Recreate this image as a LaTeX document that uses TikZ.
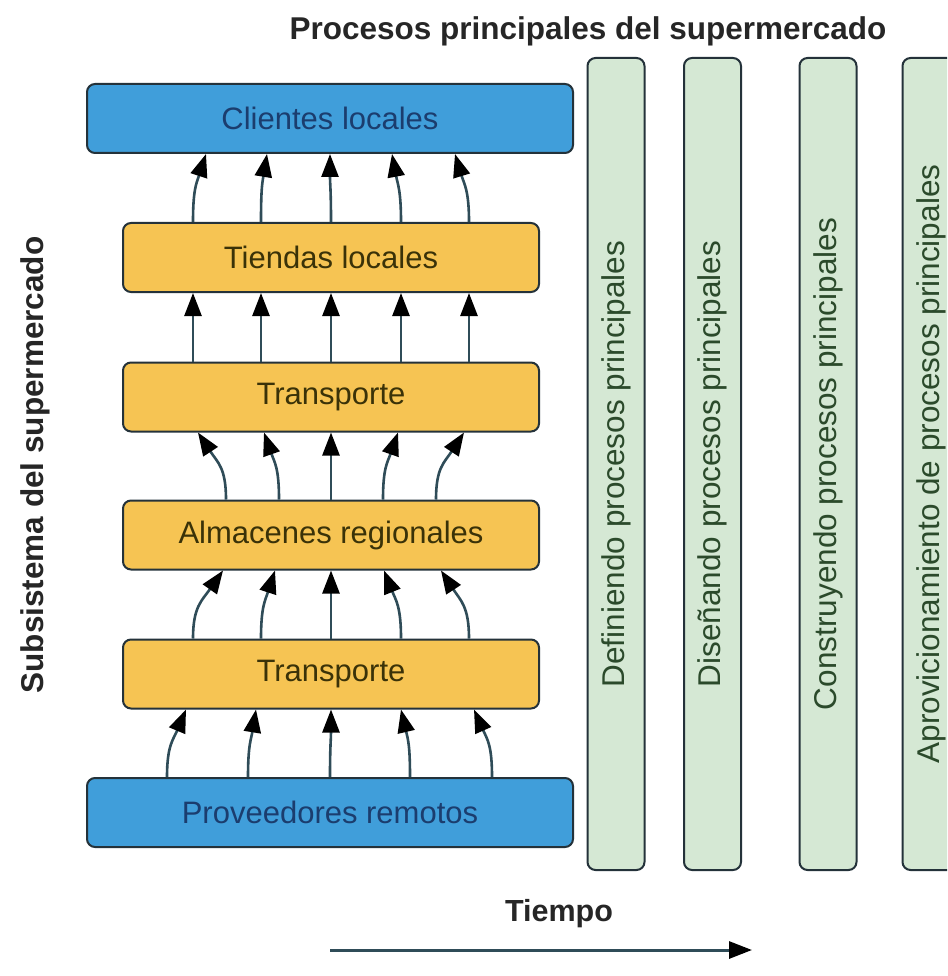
\documentclass[tikz,border=0pt]{standalone}
\usepackage{fontspec}
\setmainfont{Liberation Sans}
\usetikzlibrary{arrows.meta}
\definecolor{bluefill}{HTML}{409EDA}
\definecolor{bluetext}{HTML}{1B3D6E}
\definecolor{yellowfill}{HTML}{F6C453}
\definecolor{yellowtext}{HTML}{3A3208}
\definecolor{greenfill}{HTML}{D5E8D4}
\definecolor{greentext}{HTML}{2B4A2B}
\definecolor{edgeline}{HTML}{24323A}
\definecolor{flowline}{HTML}{2F4C58}
\tikzset{
  lbl/.style={font=\fontsize{31}{36}\selectfont},
  layer/.style={draw=edgeline, line width=2pt, rounded corners=8pt,
    minimum height=69pt, inner sep=0pt, lbl},
  extbox/.style={layer, fill=bluefill, text=bluetext, minimum width=486pt},
  midbox/.style={layer, fill=yellowfill, text=yellowtext, minimum width=416pt},
  colbox/.style={draw=edgeline, line width=2pt, rounded corners=8pt,
    fill=greenfill, text=greentext, rotate=90, minimum width=812pt,
    minimum height=57pt, inner sep=0pt, font=\fontsize{31.5}{36}\selectfont},
  tiphead/.tip={Triangle[length=23pt,width=17pt,color=black]},
  flow/.style={draw=flowline, line width=2.6pt, -tiphead},
  heading/.style={font=\fontsize{31.5}{36}\selectfont\bfseries, text=black!85}
}
\begin{document}
\begin{tikzpicture}[x=1pt,y=-1pt]
  \useasboundingbox (0,0) rectangle (947,976);
  \fill[white] (0,0) rectangle (947,976);
  \clip (0,0) rectangle (947,976);

  % titles
  \node[heading] (title) at (588,31) {Procesos principales del supermercado};
  \node[heading, rotate=90] (side) at (35,465) {Subsistema del supermercado};
  \node[heading, font=\fontsize{30.5}{36}\selectfont\bfseries] (time) at (559,914) {Tiempo};

  % supply chain layers
  \node[extbox] (cl) at (330,118.5) {Clientes locales};
  \node[midbox] (tl) at (331,257.5) {Tiendas locales};
  \node[midbox] (t1) at (331,397) {Transporte};
  \node[midbox] (ar) at (331,535) {Almacenes regionales};
  \node[midbox] (t2) at (331,674) {Transporte};
  \node[extbox] (pr) at (330,812.5) {Proveedores remotos};

  % flows between layers
  \foreach \s/\e in {-138/-124, -70/-63, 0/0, 70/62, 138/125}
    \draw[flow] ([xshift=\s]tl.north) .. controls +(0,-32) and +({0.7*(\s-\e)},30) .. ([xshift=\e]cl.south);
  \foreach \s in {-138, -70, 0, 70, 138}
    \draw[flow] ([xshift=\s]t1.north) -- ([xshift=\s]tl.south);
  \foreach \s/\e in {-105/-133, -52/-67, 0/0, 52/67, 105/133}
    \draw[flow] ([xshift=\s]ar.north) .. controls +(0,-32) and +({0.7*(\s-\e)},30) .. ([xshift=\e]t1.south);
  \foreach \s/\e in {-138/-108, -70/-56, 0/0, 70/53, 138/110}
    \draw[flow] ([xshift=\s]t2.north) .. controls +(0,-32) and +({0.7*(\s-\e)},30) .. ([xshift=\e]ar.south);
  \foreach \s/\e in {-163/-145, -82/-75, 0/0, 80/70, 162/143}
    \draw[flow] ([xshift=\s]pr.north) .. controls +(0,-32) and +({0.7*(\s-\e)},30) .. ([xshift=\e]t2.south);

  % main process columns
  \node[colbox] (p1) at (616,464) {Definiendo procesos principales};
  \node[colbox] (p2) at (712.5,464) {Diseñando procesos principales};
  \node[colbox] (p3) at (828,464) {Construyendo procesos principales};
  \node[colbox] (p4) at (931,464) {Aprovicionamiento de procesos principales};

  % time axis
  \coordinate (ta) at (330,950);
  \coordinate (tb) at (752,950);
  \draw[flow, line width=3pt] (ta) -- (tb);
\end{tikzpicture}
\end{document}
